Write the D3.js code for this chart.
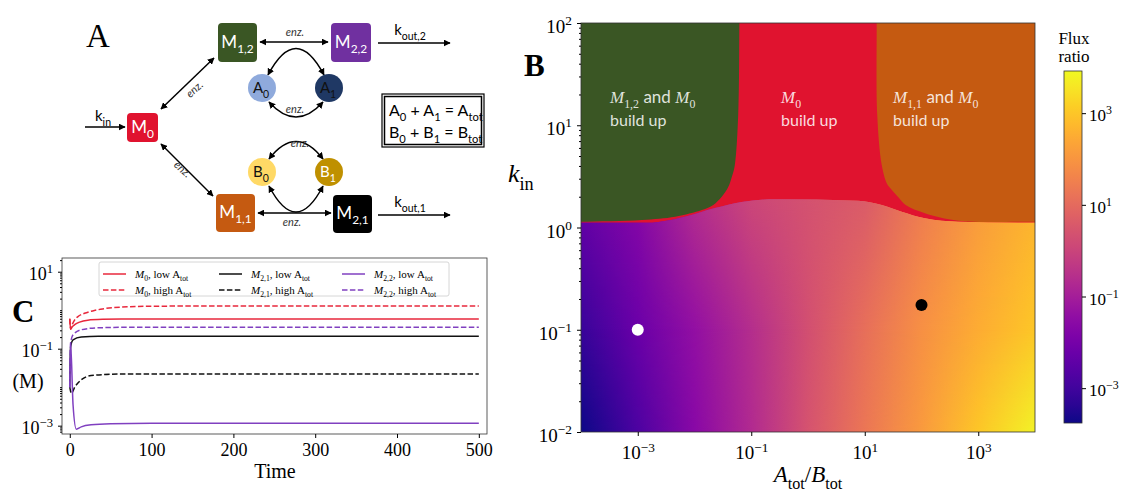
<!DOCTYPE html>
<html>
<head>
<meta charset="utf-8">
<script src="https://cdn.jsdelivr.net/npm/d3@7"></script>
<style>
body { margin: 0; background: #fff; }
svg { display: block; }
</style>
</head>
<body>
<script>
// ---------- data ----------
// panel B: log10(Atot/Btot) columns and log10(flux ratio) read along three rows of k_in
var colLogRatio = [-4, -3, -2, -1, 0, 1, 2, 3, 4];
var rowLogK = [0.3, -1, -2];
var fluxTop = [-2.2, -1.6, -0.6, 0.1, 0.35, 0.6, 1.4, 2.1, 2.6];
var fluxMid = [-3.15, -2.2, -1.4, -0.6, 0.3, 1.1, 1.9, 2.5, 3.0];
var fluxBot = [-3.76, -2.8, -1.6, -0.7, 0.4, 1.3, 2.1, 3.0, 3.77];
var fluxRange = [-3.76, 3.92];

// region edges [log10 ratio, log10 k_in]
var greenEdge = [[-1.21, 2.5], [-1.21, 2], [-1.23, 1.1], [-1.29, 0.61], [-1.34, 0.5], [-1.41, 0.39],
  [-1.52, 0.3], [-1.67, 0.22], [-1.87, 0.17], [-2.34, 0.106], [-2.93, 0.074], [-4, 0.057], [-4.5, 0.057]];
var orangeEdge = [[1.21, 2.5], [1.21, 2], [1.22, 1.1], [1.3, 0.61], [1.39, 0.43], [1.44, 0.39],
  [1.6, 0.29], [1.72, 0.22], [2.06, 0.14], [2.65, 0.067], [4, 0.057], [4.5, 0.057]];
var fluxEdge = [[-4.5, 0.047], [-4, 0.047], [-2.82, 0.047], [-2.17, 0.106], [-1.64, 0.19], [-1.17, 0.25],
  [-0.58, 0.276], [0.88, 0.262], [1.3, 0.22], [1.65, 0.155], [2.06, 0.09], [2.64, 0.057], [4, 0.047], [4.5, 0.047]];

var dotWhite = [1e-3, 0.1];
var dotBlack = [100, 0.175];

// panel C: time courses
var m0LowT = [0, 1, 3, 6, 12, 22, 40, 63, 100, 500];
var m0LowV = [0.6, 0.32, 0.37, 0.42, 0.49, 0.55, 0.58, 0.59, 0.59, 0.59];
var m0HighT = [0, 1, 3, 6, 10, 18, 30, 40, 63, 104, 200, 500];
var m0HighV = [0.6, 0.32, 0.42, 0.56, 0.68, 0.83, 0.98, 1.08, 1.2, 1.27, 1.29, 1.29];
var m21LowT = [0, 1, 4, 14, 35, 100, 500];
var m21LowV = [0.01, 0.11, 0.17, 0.2, 0.21, 0.21, 0.21];
var m21HighT = [0, 2, 6, 14, 26, 63, 120, 500];
var m21HighV = [0.01, 0.0069, 0.01, 0.0155, 0.02, 0.022, 0.022, 0.022];
var m22LowT = [0, 1, 4, 8, 14, 26, 50, 100, 500];
var m22LowV = [0.01, 0.14, 0.0035, 0.00081, 0.00093, 0.00105, 0.00112, 0.00115, 0.00115];
var m22HighT = [0, 1, 4, 14, 35, 80, 500];
var m22HighV = [0.01, 0.14, 0.23, 0.31, 0.35, 0.36, 0.36];

var timeTicks = [0, 100, 200, 300, 400, 500];

// ---------- setup ----------
var serif = "'Liberation Serif', 'DejaVu Serif', serif";
var sans = "Lato, 'Open Sans', sans-serif";
var cRed = "#e0132f", cGreen = "#3a5624", cOrange = "#c55a11", cPurple = "#7030a0";

var svg = d3.select("body").append("svg").attr("width", 1129).attr("height", 493);
var defs = svg.append("defs");

// text with sub/superscripts; base = extra vertical shift for the first piece
function rich(sel, parts, size, base) {
  var cur = -(base || 0);
  parts.forEach(function(p) {
    var off = p.sub ? size * 0.3 : (p.sup ? -size * 0.42 : 0);
    var ts = sel.append("tspan").attr("dy", off - cur).text(p.t);
    ts.style("font-size", ((p.sub || p.sup) ? size * 0.7 : size) + "px");
    if (p.i) ts.style("font-style", "italic");
    if (p.f) ts.style("font-family", p.f);
    cur = off;
  });
}
function label(g, x, y, parts, size, opts) {
  opts = opts || {};
  var t = g.append("text").attr("x", x).attr("y", y)
    .attr("text-anchor", opts.anchor || "start")
    .style("font-family", opts.font || serif)
    .style("font-size", size + "px")
    .attr("fill", opts.fill || "#000");
  if (opts.weight) t.style("font-weight", opts.weight);
  if (opts.rotate) t.attr("transform", "rotate(" + opts.rotate + "," + x + "," + y + ")");
  if (opts.opacity) t.attr("fill-opacity", opts.opacity);
  rich(t, parts, size);
  return t;
}
function powLabels(axisG, size, dyEm) {
  axisG.selectAll(".tick text").each(function(d) {
    var e = Math.round(Math.log10(d));
    var t = d3.select(this);
    t.text(null).attr("dy", null);
    rich(t, [{t: "10"}, {t: e < 0 ? "\u2212" + (-e) : String(e), sup: true}], size, dyEm * size);
  });
}
function minorLog(lo, hi) {
  var out = [];
  for (var e = lo; e < hi; e++) for (var k = 2; k <= 9; k++) out.push(k * Math.pow(10, e));
  return out;
}
var p10 = function(v) { return Math.pow(10, v); };

// ---------- panel A: diagram ----------
var gA = svg.append("g");
defs.append("marker").attr("id", "ah").attr("viewBox", "0 0 10 10")
  .attr("refX", 9).attr("refY", 5).attr("markerWidth", 7).attr("markerHeight", 7)
  .attr("markerUnits", "userSpaceOnUse").attr("orient", "auto-start-reverse")
  .append("path").attr("d", "M0,0L10,5L0,10Z").attr("fill", "#000");

label(gA, 86, 47, [{t: "A"}], 33, {});

function arrow(d, both) {
  var p = gA.append("path").attr("d", d).attr("fill", "none").attr("stroke", "#000")
    .attr("stroke-width", 1.5).attr("marker-end", "url(#ah)");
  if (both) p.attr("marker-start", "url(#ah)");
}
arrow("M85,127L125,127");
arrow("M161,109L214,58", true);
arrow("M161,144L213,196", true);
arrow("M260,42L328,42", true);
arrow("M258,213L331,213", true);
arrow("M378,43L450,43");
arrow("M378,215L450,215");
arrow("M268,75Q296,22 324,75", true);
arrow("M269,102Q296,132 323,102", true);
arrow("M269,159Q296,124 323,159", true);
arrow("M269,186Q296,238 323,186", true);

var enz = [[295, 36, 0], [295, 113, 0], [300, 147, 0], [292, 226, 0], [197, 92, -42], [180, 172, 42]];
enz.forEach(function(e) {
  label(gA, e[0], e[1], [{t: "enz."}], 11, {font: sans, anchor: "middle", rotate: e[2] || null})
    .style("font-style", "italic").attr("fill", "#333");
});
label(gA, 103, 121, [{t: "k"}, {t: "in", sub: true}], 15, {font: sans, anchor: "middle"});
label(gA, 410, 35, [{t: "k"}, {t: "out,2", sub: true}], 15, {font: sans, anchor: "middle"});
label(gA, 410, 207, [{t: "k"}, {t: "out,1", sub: true}], 15, {font: sans, anchor: "middle"});

var boxes = [
  {x: 127, y: 113, w: 31, h: 29, c: cRed, s: "0"},
  {x: 218, y: 23, w: 39, h: 39, c: cGreen, s: "1,2"},
  {x: 331, y: 23, w: 40, h: 39, c: cPurple, s: "2,2"},
  {x: 216, y: 194, w: 39, h: 38, c: cOrange, s: "1,1"},
  {x: 333, y: 195, w: 39, h: 38, c: "#000", s: "2,1"}
];
boxes.forEach(function(b) {
  gA.append("rect").attr("x", b.x).attr("y", b.y).attr("width", b.w).attr("height", b.h)
    .attr("rx", 4).attr("fill", b.c);
  label(gA, b.x + b.w / 2, b.y + b.h / 2 + 5, [{t: "M"}, {t: b.s, sub: true}], 17,
    {font: sans, anchor: "middle", fill: "#fff"});
});
var circles = [
  {x: 262, y: 88, c: "#8faadc", t: "A", s: "0", f: "#111"},
  {x: 329, y: 88, c: "#1f3864", t: "A", s: "1", f: "#111"},
  {x: 262, y: 172, c: "#ffd966", t: "B", s: "0", f: "#111"},
  {x: 329, y: 172, c: "#bf9000", t: "B", s: "1", f: "#fff"}
];
circles.forEach(function(c) {
  gA.append("circle").attr("cx", c.x).attr("cy", c.y).attr("r", 14).attr("fill", c.c);
  label(gA, c.x - 1, c.y + 5, [{t: c.t}, {t: c.s, sub: true}], 15, {font: sans, anchor: "middle", fill: c.f});
});
gA.append("rect").attr("x", 382).attr("y", 94).attr("width", 102).attr("height", 53)
  .attr("fill", "none").attr("stroke", "#000").attr("stroke-width", 1.2);
gA.append("rect").attr("x", 384.5).attr("y", 96.5).attr("width", 97).attr("height", 48)
  .attr("fill", "none").attr("stroke", "#000").attr("stroke-width", 1.5);
label(gA, 389, 116, [{t: "A"}, {t: "0", sub: true}, {t: " + A"}, {t: "1", sub: true}, {t: " = A"}, {t: "tot", sub: true}], 16, {font: sans});
label(gA, 389, 138, [{t: "B"}, {t: "0", sub: true}, {t: " + B"}, {t: "1", sub: true}, {t: " = B"}, {t: "tot", sub: true}], 16, {font: sans});

// ---------- panel B: phase map ----------
var bL = 581, bR = 1035, bT = 23, bB = 432;
var xB = d3.scaleLog().domain([1e-4, 1e4]).range([bL, bR]);
var yB = d3.scaleLog().domain([1e-2, 1e2]).range([bB, bT]);
var cScale = d3.scaleSequentialLog(d3.interpolatePlasma).domain(fluxRange.map(p10));
var ptB = function(d) { return [xB(p10(d[0])), yB(p10(d[1]))]; };

defs.append("clipPath").attr("id", "clipB").append("rect")
  .attr("x", bL).attr("y", bT).attr("width", bR - bL).attr("height", bB - bT);
var gB = svg.append("g");
var plotB = gB.append("g").attr("clip-path", "url(#clipB)");

plotB.append("rect").attr("x", bL).attr("y", bT).attr("width", bR - bL).attr("height", bB - bT).attr("fill", cRed);

var smooth = d3.line().curve(d3.curveCatmullRom.alpha(0.5));
plotB.append("path").attr("fill", cGreen)
  .attr("d", smooth(greenEdge.map(ptB)) + "L" + ptB([-4.5, 2.5]) + "Z");
plotB.append("path").attr("fill", cOrange)
  .attr("d", smooth(orangeEdge.map(ptB)) + "L" + ptB([4.5, 2.5]) + "Z");

// heatmap: one horizontal gradient per row, rows blended vertically through a mask
var rows = [fluxTop, fluxMid, fluxBot];
rows.forEach(function(vals, i) {
  var gr = defs.append("linearGradient").attr("id", "row" + i).attr("gradientUnits", "userSpaceOnUse")
    .attr("x1", bL).attr("x2", bR).attr("y1", 0).attr("y2", 0);
  vals.forEach(function(v, j) {
    gr.append("stop").attr("offset", (xB(p10(colLogRatio[j])) - bL) / (bR - bL)).attr("stop-color", cScale(p10(v)));
  });
});
var vf = defs.append("linearGradient").attr("id", "vfade").attr("x1", 0).attr("x2", 0).attr("y1", 0).attr("y2", 1);
vf.append("stop").attr("offset", 0).attr("stop-color", "#000");
vf.append("stop").attr("offset", 1).attr("stop-color", "#fff");
defs.append("mask").attr("id", "fadeMask").attr("maskContentUnits", "objectBoundingBox")
  .append("rect").attr("width", 1).attr("height", 1).attr("fill", "url(#vfade)");

defs.append("clipPath").attr("id", "clipFlux").append("path")
  .attr("d", d3.line().curve(d3.curveMonotoneX)(fluxEdge.map(ptB)) +
    "L" + ptB([4.5, -2.5]) + "L" + ptB([-4.5, -2.5]) + "Z");
var heat = plotB.append("g").attr("clip-path", "url(#clipFlux)");
heat.append("rect").attr("x", bL).attr("y", bT).attr("width", bR - bL).attr("height", bB - bT)
  .attr("fill", "url(#row1)");
for (var i = 0; i < rowLogK.length - 1; i++) {
  var y0 = yB(p10(rowLogK[i])), y1 = yB(p10(rowLogK[i + 1]));
  heat.append("rect").attr("x", bL).attr("y", y0 - 0.5).attr("width", bR - bL).attr("height", y1 - y0 + 1)
    .attr("fill", "url(#row" + i + ")");
  heat.append("rect").attr("x", bL).attr("y", y0 - 0.5).attr("width", bR - bL).attr("height", y1 - y0 + 1)
    .attr("fill", "url(#row" + (i + 1) + ")").attr("mask", "url(#fadeMask)");
}

plotB.append("circle").attr("cx", xB(dotWhite[0])).attr("cy", yB(dotWhite[1])).attr("r", 6).attr("fill", "#fff");
plotB.append("circle").attr("cx", xB(dotBlack[0])).attr("cy", yB(dotBlack[1])).attr("r", 6).attr("fill", "#000");

// region labels
function regionLabel(x, parts) {
  label(gB, x, 103, parts, 17, {fill: "#fff", opacity: 0.85});
  label(gB, x, 126, [{t: "build up"}], 16, {font: sans, fill: "#fff", opacity: 0.85});
}
regionLabel(610, [{t: "M", i: true}, {t: "1,2", sub: true}, {t: " and ", f: sans}, {t: "M", i: true}, {t: "0", sub: true}]);
regionLabel(781, [{t: "M", i: true}, {t: "0", sub: true}]);
regionLabel(893, [{t: "M", i: true}, {t: "1,1", sub: true}, {t: " and ", f: sans}, {t: "M", i: true}, {t: "0", sub: true}]);

gB.append("rect").attr("x", bL).attr("y", bT).attr("width", bR - bL).attr("height", bB - bT)
  .attr("fill", "none").attr("stroke", "#333").attr("stroke-width", 0.8);

var axBy = gB.append("g").attr("transform", "translate(" + bL + ",0)")
  .call(d3.axisLeft(yB).tickValues([1e-2, 1e-1, 1, 10, 100]).tickSize(4).tickPadding(5));
axBy.select(".domain").remove();
axBy.attr("font-family", serif).attr("font-size", 19);
powLabels(axBy, 19, 0.5);
gB.append("g").attr("transform", "translate(" + bL + ",0)")
  .call(d3.axisLeft(yB).tickValues(minorLog(-2, 2)).tickSize(2).tickFormat(""))
  .select(".domain").remove();

var axBx = gB.append("g").attr("transform", "translate(0," + bB + ")")
  .call(d3.axisBottom(xB).tickValues([1e-3, 1e-1, 10, 1e3]).tickSize(4).tickPadding(10));
axBx.select(".domain").remove();
axBx.attr("font-family", serif).attr("font-size", 19);
powLabels(axBx, 19, 0.71);

label(gB, 808, 482, [{t: "A", i: true}, {t: "tot", sub: true}, {t: "/"}, {t: "B", i: true}, {t: "tot", sub: true}], 23, {anchor: "middle"});
label(gB, 508, 182, [{t: "k", i: true}, {t: "in", sub: true}], 26, {});
label(gB, 524, 76, [{t: "B"}], 31, {weight: "bold"});

// colorbar
var cbX = 1064, cbW = 18, cbT = 71, cbB = 423;
var yCb = d3.scaleLog().domain(fluxRange.map(p10)).range([cbB, cbT]);
var cg = defs.append("linearGradient").attr("id", "cbar").attr("x1", 0).attr("x2", 0).attr("y1", 1).attr("y2", 0);
d3.range(0, 1.0001, 0.05).forEach(function(f) {
  cg.append("stop").attr("offset", f).attr("stop-color", d3.interpolatePlasma(f));
});
svg.append("rect").attr("x", cbX).attr("y", cbT).attr("width", cbW).attr("height", cbB - cbT)
  .attr("fill", "url(#cbar)").attr("stroke", "#333").attr("stroke-width", 0.8);
var axCb = svg.append("g").attr("transform", "translate(" + (cbX + cbW) + ",0)")
  .call(d3.axisRight(yCb).tickValues([1e-3, 1e-1, 10, 1e3]).tickSize(4).tickPadding(3));
axCb.select(".domain").remove();
axCb.attr("font-family", serif).attr("font-size", 17);
powLabels(axCb, 17, 0.45);
label(svg, 1074, 44, [{t: "Flux"}], 17, {anchor: "middle"});
label(svg, 1074, 62, [{t: "ratio"}], 17, {anchor: "middle"});

// ---------- panel C: time courses ----------
var cL = 62, cR = 487, cT = 258, cB = 434;
var xC = d3.scaleLinear().domain([-9.5, 510]).range([cL, cR]);
var yC = d3.scaleLog().domain([p10(-3.216), p10(1.356)]).range([cB, cT]);
var gC = svg.append("g");
defs.append("clipPath").attr("id", "clipC").append("rect")
  .attr("x", cL).attr("y", cT).attr("width", cR - cL).attr("height", cB - cT);

var cLineRed = "#e8283c", cLinePurple = "#8040c0", cLineBlack = "#111";
var seriesC = [
  {t: m0LowT, v: m0LowV, color: cLineRed, dash: false, m: "0", cond: "low", col: 0, row: 0},
  {t: m0HighT, v: m0HighV, color: cLineRed, dash: true, m: "0", cond: "high", col: 0, row: 1},
  {t: m21LowT, v: m21LowV, color: cLineBlack, dash: false, m: "2,1", cond: "low", col: 1, row: 0},
  {t: m21HighT, v: m21HighV, color: cLineBlack, dash: true, m: "2,1", cond: "high", col: 1, row: 1},
  {t: m22LowT, v: m22LowV, color: cLinePurple, dash: false, m: "2,2", cond: "low", col: 2, row: 0},
  {t: m22HighT, v: m22HighV, color: cLinePurple, dash: true, m: "2,2", cond: "high", col: 2, row: 1}
];
var lineC = d3.line().x(function(d) { return xC(d[0]); }).y(function(d) { return yC(d[1]); })
  .curve(d3.curveMonotoneX);
var plotC = gC.append("g").attr("clip-path", "url(#clipC)");
seriesC.forEach(function(s) {
  plotC.append("path").attr("d", lineC(s.t.map(function(t, i) { return [t, s.v[i]]; })))
    .attr("fill", "none").attr("stroke", s.color).attr("stroke-width", 1.5)
    .attr("stroke-dasharray", s.dash ? "5.5,2.4" : null);
});

gC.append("rect").attr("x", cL).attr("y", cT).attr("width", cR - cL).attr("height", cB - cT)
  .attr("fill", "none").attr("stroke", "#333").attr("stroke-width", 0.8);

var axCy = gC.append("g").attr("transform", "translate(" + cL + ",0)")
  .call(d3.axisLeft(yC).tickValues([1e-3, 1e-1, 10]).tickSize(4).tickPadding(5));
axCy.select(".domain").remove();
axCy.attr("font-family", serif).attr("font-size", 18);
powLabels(axCy, 18, 0.45);
gC.append("g").attr("transform", "translate(" + cL + ",0)")
  .call(d3.axisLeft(yC).tickValues(minorLog(-4, 2).concat([1e-2, 1, 10]).filter(function(v) {
    return v >= yC.domain()[0] && v <= yC.domain()[1] && [1e-3, 1e-1, 10].indexOf(v) < 0;
  })).tickSize(2).tickFormat(""))
  .select(".domain").remove();

var axCx = gC.append("g").attr("transform", "translate(0," + cB + ")")
  .call(d3.axisBottom(xC).tickValues(timeTicks).tickSize(4).tickPadding(5));
axCx.select(".domain").remove();
axCx.attr("font-family", serif).attr("font-size", 18);

label(gC, 275, 478, [{t: "Time"}], 20, {anchor: "middle"});
label(gC, 28, 388, [{t: "(M)"}], 20, {anchor: "middle"});
label(gC, 12, 322, [{t: "C"}], 31, {weight: "bold"});

// legend
gC.append("rect").attr("x", 99).attr("y", 262).attr("width", 350).attr("height", 34).attr("rx", 2)
  .attr("fill", "#fff").attr("fill-opacity", 0.85).attr("stroke", "#ccc").attr("stroke-width", 0.8);
var legCols = [103, 219, 342];
var legRows = [274, 290];
seriesC.forEach(function(s) {
  var lx = legCols[s.col], ly = legRows[s.row];
  gC.append("line").attr("x1", lx).attr("x2", lx + 23).attr("y1", ly).attr("y2", ly)
    .attr("stroke", s.color).attr("stroke-width", 1.5).attr("stroke-dasharray", s.dash ? "5.5,2.4" : null);
  label(gC, lx + 32, ly + 4, [{t: "M", i: true}, {t: s.m, sub: true}, {t: ", " + s.cond + " A"}, {t: "tot", sub: true}], 11, {});
});
</script>
</body>
</html>
